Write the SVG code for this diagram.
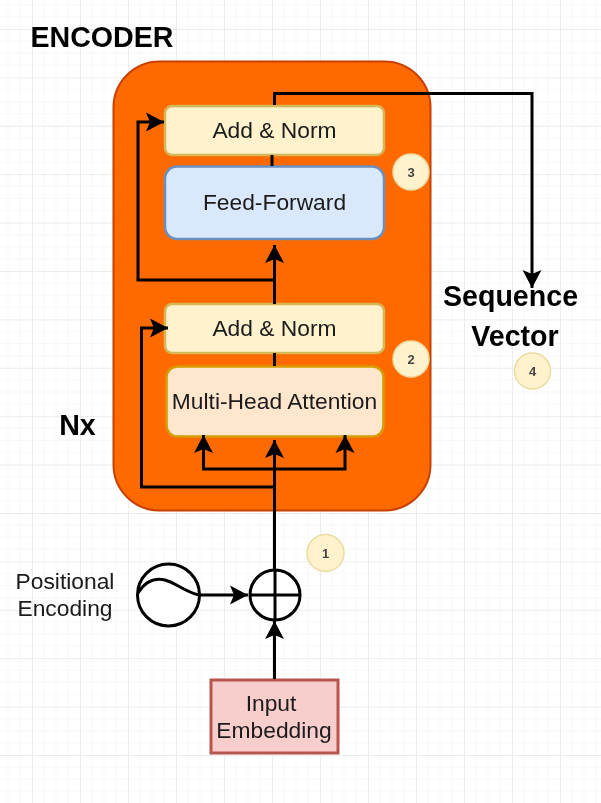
<svg xmlns="http://www.w3.org/2000/svg" width="601" height="803" viewBox="0 0 601 803">
<style>
text{font-family:"Liberation Sans",Arial,sans-serif;fill:#1a1a1a;text-anchor:middle}
.l{font-size:22.8px}
.b{font-size:28.6px;font-weight:bold;fill:#000}
.n{font-size:13px;font-weight:bold;fill:#444}
.c{fill:none;stroke:#000;stroke-width:3}
.badge{fill:#fff2cc;stroke:#eadb9f;stroke-width:1.5}
</style>
<defs>
<pattern id="grid" x="32" y="29" width="48" height="48.4" patternUnits="userSpaceOnUse">
<path d="M12 0V48.4M24 0V48.4M36 0V48.4M0 12.1H48M0 24.2H48M0 36.3H48" fill="none" stroke="#f7f7f7" stroke-width="1"/>
<path d="M0.500 0V48.4M0 0.500H48" fill="none" stroke="#ececec" stroke-width="1"/>
</pattern>
<marker id="a" markerUnits="userSpaceOnUse" markerWidth="22" markerHeight="22" refX="18" refY="10" orient="auto">
<path d="M0 0.500L18 10L0 19.500L4 10Z" fill="#000"/>
</marker>
<filter id="soft" filterUnits="userSpaceOnUse" x="0" y="0" width="601" height="803"><feGaussianBlur stdDeviation="0.45"/></filter>
</defs>
<rect width="601" height="803" fill="#fff"/>
<rect width="601" height="803" fill="url(#grid)"/>
<g filter="url(#soft)">
<g id="encoder">
<rect x="113.500" y="61.500" width="317" height="449" rx="46" fill="#ff6a00" stroke="#c73f00" stroke-width="2"/>
</g>
<g id="add-norm-top">
<rect x="165" y="106" width="219" height="49" rx="7" fill="#fff2cc" stroke="#d6b656" stroke-width="2.500"/>
<text class="l" x="274.500" y="137.500">Add &amp; Norm</text>
</g>
<g id="feed-forward">
<rect x="165" y="166.500" width="219" height="72.500" rx="12" fill="#dae8fc" stroke="#6c8ebf" stroke-width="2.500"/>
<text class="l" x="274.500" y="209.500">Feed-Forward</text>
</g>
<g id="add-norm-bottom">
<rect x="165" y="304" width="219" height="49" rx="7" fill="#fff2cc" stroke="#d6b656" stroke-width="2.500"/>
<text class="l" x="274.500" y="336">Add &amp; Norm</text>
</g>
<g id="multi-head-attention">
<rect x="166.500" y="366.500" width="217" height="70" rx="11" fill="#ffe6cc" stroke="#d79b00" stroke-width="2.500"/>
<text class="l" x="274.500" y="408.500">Multi-Head Attention</text>
</g>
<g id="input-embedding">
<rect x="211" y="680" width="127" height="73" fill="#f8cecc" stroke="#b85450" stroke-width="3"/>
<text class="l" x="271" y="711">Input</text>
<text class="l" x="274" y="738">Embedding</text>
</g>
<g id="positional-encoding">
<circle cx="168.500" cy="595" r="31" fill="#fff" stroke="#000" stroke-width="3"/>
<path d="M138 593C146 580 156 578 165 580C176 583 185 592 199 595" fill="none" stroke="#000" stroke-width="3"/>
<text class="l" x="65" y="589">Positional</text>
<text class="l" x="65" y="616">Encoding</text>
</g>
<g id="add">
<circle cx="275" cy="595" r="25" fill="#fff" stroke="#000" stroke-width="3"/>
<path d="M275 570V620M250 595H300" fill="none" stroke="#000" stroke-width="3"/>
</g>
<g id="connectors">
<path class="c" marker-end="url(#a)" d="M274.500 679V621"/>
<path class="c" marker-end="url(#a)" d="M200 595H248"/>
<path class="c" d="M274.500 570V487"/>
<path class="c" marker-end="url(#a)" d="M274.500 487V440"/>
<path class="c" marker-end="url(#a)" d="M274.500 469H203.500V435"/>
<path class="c" marker-end="url(#a)" d="M274.500 469H345V435"/>
<path class="c" marker-end="url(#a)" d="M274.500 487H141.500V328H168"/>
<path class="c" d="M274.500 366V353"/>
<path class="c" marker-end="url(#a)" d="M274.500 304V245"/>
<path class="c" marker-end="url(#a)" d="M274.500 280H138V122H164"/>
<path class="c" d="M272 166V155"/>
<path class="c" marker-end="url(#a)" d="M274.500 105V93.500H532V288"/>
</g>
<g id="badge-1"><circle class="badge" cx="325.500" cy="553" r="18.500"/><text class="n" x="325.500" y="557.500">1</text></g>
<g id="badge-2"><circle class="badge" cx="411" cy="359" r="18"/><text class="n" x="411" y="363.500">2</text></g>
<g id="badge-3"><circle class="badge" cx="411" cy="172" r="18"/><text class="n" x="411" y="176.500">3</text></g>
<g id="badge-4"><circle class="badge" cx="532.500" cy="371" r="18"/><text class="n" x="532.500" y="375.500">4</text></g>
<g id="labels">
<text class="b" x="102" y="47">ENCODER</text>
<text class="b" x="77.500" y="435">Nx</text>
<text class="b" x="510.500" y="306">Sequence</text>
<text class="b" x="515" y="346">Vector</text>
</g>
</g>
</svg>
